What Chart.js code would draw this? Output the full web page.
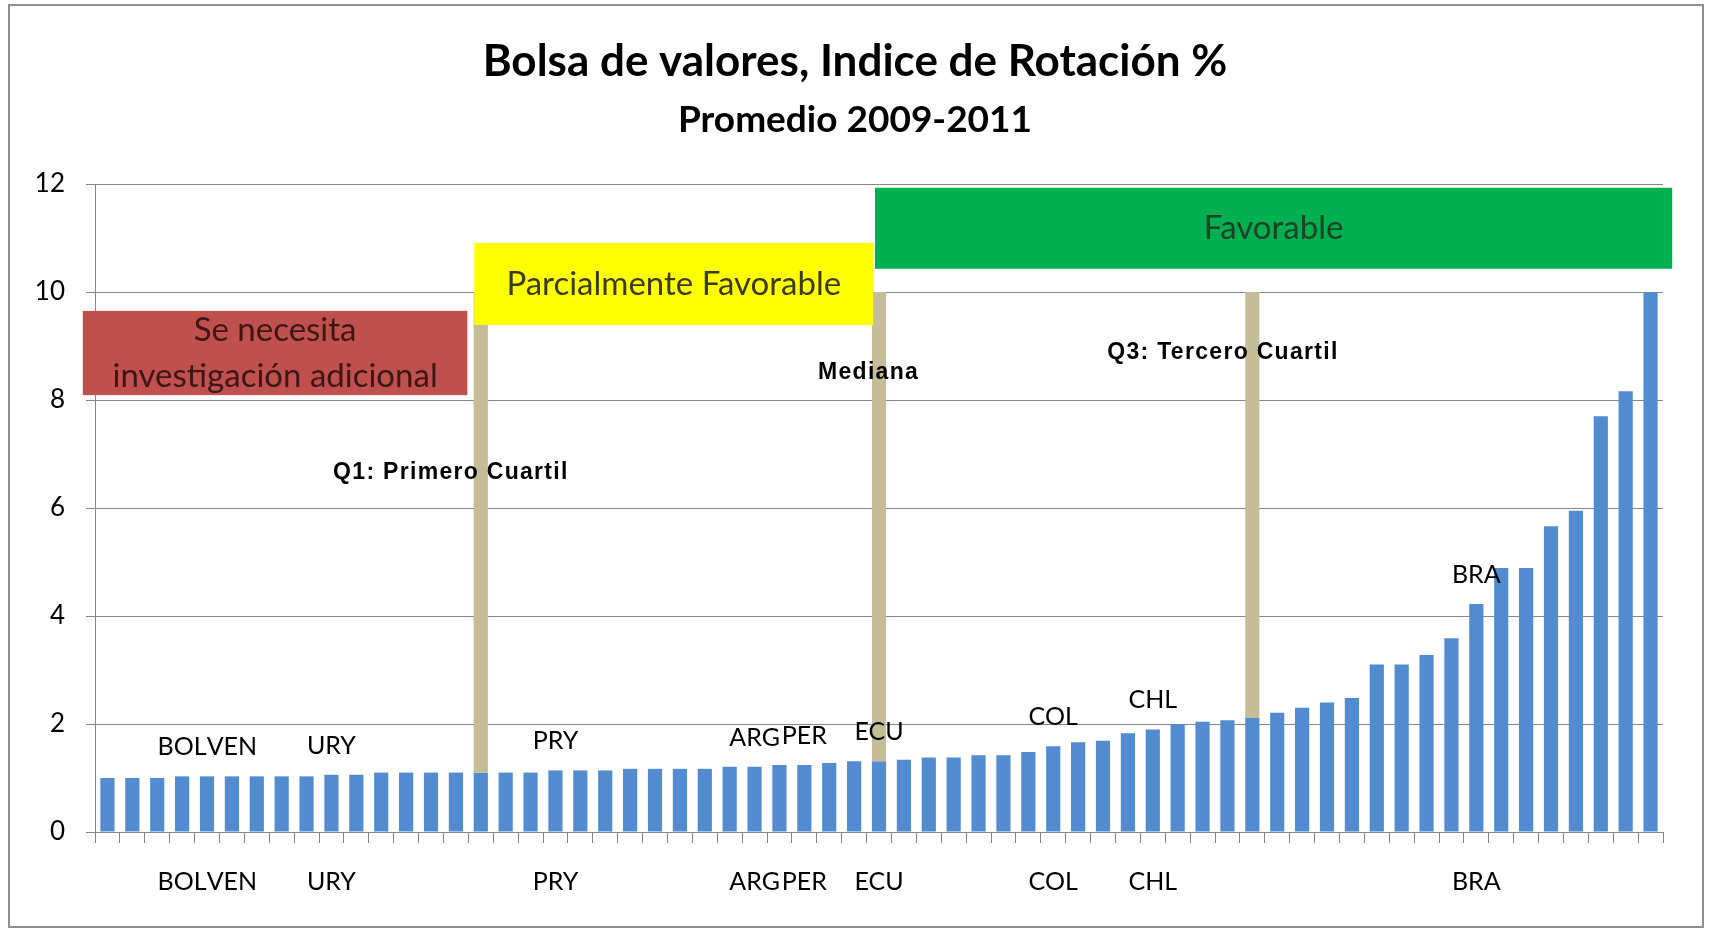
<!DOCTYPE html>
<html>
<head>
<meta charset="utf-8">
<script src="https://cdn.jsdelivr.net/npm/chart.js@4.4.1/dist/chart.umd.min.js"></script>
<style>
html, body { margin: 0; padding: 0; background: #fff; }
</style>
</head>
<body>
<canvas id="myChart" width="1710" height="931"></canvas>
<script>
// categorías (solo algunos países llevan etiqueta)
const etiquetas = [
    '', '', '', 'BOL', '', 'VEN', '', '', '', 'URY',
    '', '', '', '', '', '', '', '', 'PRY', '',
    '', '', '', '', '', '', 'ARG', '', 'PER', '',
    '', 'ECU', '', '', '', '', '', '', 'COL', '',
    '', '', 'CHL', '', '', '', '', '', '', '',
    '', '', '', '', '', 'BRA', '', '', '', '',
    '', '', ''
];

// índice de rotación % (promedio 2009-2011), ordenado
const rotacion = [
    1.00, 1.00, 1.00, 1.03, 1.03, 1.03, 1.03, 1.03, 1.03, 1.06,
    1.06, 1.10, 1.10, 1.10, 1.10, 1.10, 1.10, 1.10, 1.14, 1.14,
    1.14, 1.17, 1.17, 1.17, 1.17, 1.21, 1.21, 1.24, 1.24, 1.28,
    1.31, 1.31, 1.34, 1.38, 1.38, 1.42, 1.42, 1.48, 1.59, 1.66,
    1.69, 1.83, 1.90, 2.00, 2.04, 2.07, 2.11, 2.21, 2.30, 2.40,
    2.48, 3.10, 3.10, 3.28, 3.59, 4.22, 4.89, 4.89, 5.66, 5.95,
    7.70, 8.16, 10.00
];

// Q1, mediana y Q3 (posición en la serie) y hasta dónde sube la línea
const cuartilIdx = [15, 31, 46];
const cuartilTope = 10;

const ejeY = [0, 2, 4, 6, 8, 10, 12];

// línea de cuartil = barra flotante desde el valor del país hasta el tope
const lineasCuartil = rotacion.map((v, i) => cuartilIdx.includes(i) ? [v, cuartilTope] : null);

// cajas de colores (en unidades de categoría / valor)
const cajas = [
    { x0: -0.99, x1: 14.46, y0: 8.09, y1: 9.65, color: '#C0504D', texto: '#3d1616', lineas: ['Se necesita', 'investigación adicional'] },
    { x0: 14.74, x1: 30.77, y0: 9.39, y1: 10.91, color: '#FFFF00', texto: '#3b3b1c', lineas: ['Parcialmente Favorable'] },
    { x0: 30.84, x1: 62.87, y0: 10.43, y1: 11.93, color: '#00B050', texto: '#1e4226', lineas: ['Favorable'] }
];

// notas en negrita
const notas = [
    { x: 13.80, y: 6.65, texto: 'Q1: Primero Cuartil' },
    { x: 30.58, y: 8.50, texto: 'Mediana' },
    { x: 44.82, y: 8.88, texto: 'Q3: Tercero Cuartil' }
];

const fondo = {
    id: 'fondo',
    beforeDraw(chart) {
        const ctx = chart.ctx;
        ctx.save();
        ctx.fillStyle = '#fff';
        ctx.fillRect(0, 0, chart.width, chart.height);
        ctx.strokeStyle = '#8f8f8f';
        ctx.lineWidth = 2;
        ctx.strokeRect(9, 5, 1694, 922);
        ctx.restore();
    }
};

const titulos = {
    id: 'titulos',
    afterDraw(chart) {
        const ctx = chart.ctx;
        ctx.save();
        ctx.fillStyle = '#000';
        ctx.textAlign = 'center';
        ctx.textBaseline = 'middle';
        ctx.font = 'bold 44px Lato';
        ctx.fillText('Bolsa de valores, Indice de Rotación %', 855, 62);
        ctx.font = 'bold 37px Lato';
        ctx.fillText('Promedio 2009-2011', 855, 120);
        ctx.restore();
    }
};

const marcas = {
    id: 'marcas',
    afterDatasetsDraw(chart) {
        const ctx = chart.ctx;
        const xs = chart.scales.x;
        const ys = chart.scales.y;
        ctx.save();

        // cajas
        cajas.forEach(c => {
            const l = xs.getPixelForValue(c.x0);
            const r = xs.getPixelForValue(c.x1);
            const t = ys.getPixelForValue(c.y1);
            const b = ys.getPixelForValue(c.y0);
            ctx.fillStyle = c.color;
            ctx.fillRect(l, t, r - l, b - t);
            ctx.fillStyle = c.texto;
            ctx.font = '33px Lato';
            ctx.textAlign = 'center';
            ctx.textBaseline = 'middle';
            const cy = (t + b) / 2;
            const paso = 46;
            c.lineas.forEach((ln, k) => {
                ctx.fillText(ln, (l + r) / 2, cy + (k - (c.lineas.length - 1) / 2) * paso);
            });
        });

        // etiquetas sobre las barras
        const meta = chart.getDatasetMeta(0);
        ctx.fillStyle = '#000';
        ctx.font = '25px Lato';
        ctx.textAlign = 'center';
        ctx.textBaseline = 'alphabetic';
        etiquetas.forEach((e, i) => {
            if (!e) return;
            const bar = meta.data[i];
            ctx.fillText(e, bar.x, bar.y - 21);
        });

        // notas
        ctx.font = 'bold 23px "Liberation Sans"';
        ctx.letterSpacing = '1.3px';
        ctx.textBaseline = 'middle';
        notas.forEach(n => {
            ctx.fillText(n.texto, xs.getPixelForValue(n.x), ys.getPixelForValue(n.y));
        });
        ctx.restore();
    }
};

const ctx = document.getElementById('myChart').getContext('2d');
const myChart = new Chart(ctx, {
    type: 'bar',
    data: {
        labels: etiquetas,
        datasets: [
            {
                label: 'Rotación',
                data: rotacion,
                backgroundColor: '#528BD0',
                barPercentage: 0.57,
                categoryPercentage: 1,
                grouped: false,
                order: 2
            },
            {
                label: 'Cuartiles',
                data: lineasCuartil,
                backgroundColor: '#C4BD97',
                barPercentage: 0.57,
                categoryPercentage: 1,
                grouped: false,
                order: 1
            }
        ]
    },
    options: {
        responsive: false,
        animation: false,
        layout: { padding: { top: 184, right: 47, bottom: 39, left: 0 } },
        plugins: {
            legend: { display: false },
            tooltip: { enabled: false }
        },
        scales: {
            x: {
                offset: true,
                grid: {
                    display: true,
                    drawOnChartArea: false,
                    offset: true,
                    tickLength: 11,
                    color: '#868686'
                },
                border: { color: '#868686' },
                ticks: {
                    autoSkip: false,
                    maxRotation: 0,
                    minRotation: 0,
                    padding: 24,
                    color: '#000',
                    font: { family: 'Lato', size: 25 }
                },
                afterFit(scale) { scale.height = 60; }
            },
            y: {
                min: 0,
                max: 12,
                afterBuildTicks(scale) { scale.ticks = ejeY.map(v => ({ value: v })); },
                grid: { color: '#868686', tickLength: 9 },
                border: { color: '#868686' },
                ticks: {
                    padding: 21,
                    color: '#000',
                    font: { family: 'Lato', size: 26 }
                },
                afterFit(scale) { scale.width = 95; }
            }
        }
    },
    plugins: [fondo, titulos, marcas]
});
</script>
</body>
</html>
